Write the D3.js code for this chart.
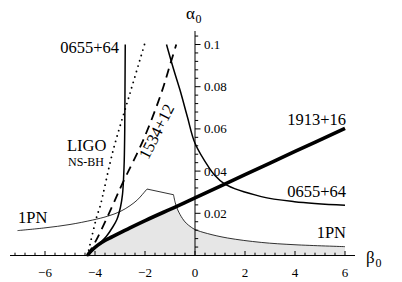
<!DOCTYPE html>
<html>
<head>
<meta charset="UTF-8">
<script src="https://d3js.org/d3.v7.min.js"></script>
</head>
<body style="margin:0">
<script>

// curves, [beta0, alpha0]
var pnRise = [[-7.1, 0.0118], [-6, 0.0131], [-5, 0.0147], [-4.1, 0.0168], [-3.5, 0.0186],
              [-3.0, 0.0208], [-2.6, 0.0236], [-2.3, 0.0264], [-2.1, 0.029], [-1.92, 0.0315]];
var pnFlat = [[-1.92, 0.0315], [-0.86, 0.0288]];
var pnFall = [[-0.86, 0.0288], [-0.79, 0.025], [-0.69, 0.0216], [-0.5, 0.0175], [-0.35, 0.0153],
              [-0.15, 0.0134], [0, 0.0123], [0.5, 0.0104], [1.3, 0.0083], [2.65, 0.0062],
              [4, 0.0051], [6, 0.0042]];
var psr1913 = [[-4.3, 0], [-4.15, 0.0022], [-3.9, 0.0048], [-3.6, 0.0071], [-3.3, 0.0089],
               [-2.6, 0.0131], [-1.95, 0.0168], [-0.75, 0.0232], [0, 0.0273], [2, 0.0383],
               [4, 0.0493], [6, 0.0603]];
var psr0655Left = [[-2.79, 0.1], [-2.8, 0.08], [-2.81, 0.06], [-2.83, 0.045], [-2.86, 0.036],
                   [-2.9, 0.029], [-2.98, 0.023], [-3.12, 0.0172], [-3.29, 0.0135],
                   [-3.55, 0.009], [-3.82, 0.0057], [-4.05, 0.003], [-4.3, 0]];
var psr0655Right = [[-1.14, 0.1], [-0.85, 0.088], [-0.6, 0.0784], [-0.3, 0.0655], [0, 0.0532],
                    [0.58, 0.0413], [0.78, 0.0382], [1.18, 0.0339], [2.65, 0.0279],
                    [3.98, 0.0255], [6, 0.0238]];
var psr1534 = [[-4.3, 0], [-3.95, 0.0073], [-3.62, 0.0153], [-3.29, 0.0239], [-2.9, 0.0342],
               [-2.07, 0.0547], [-1.35, 0.0769], [-1.02, 0.0895], [-0.75, 0.1]];
var ligo = [[-4.3, 0], [-3.93, 0.0184], [-3.8, 0.0231], [-3.27, 0.05], [-2.6, 0.0769], [-2.02, 0.1]];

var xTickLabels = [-6, -4, -2, 0, 2, 4, 6];
var yTickLabels = [0.02, 0.04, 0.06, 0.08, 0.1];

var x = d3.scaleLinear().domain([-6, 6]).range([45, 345]);
var y = d3.scaleLinear().domain([0, 0.1]).range([255.5, 44.5]);

var svg = d3.select('body').append('svg')
    .attr('width', 402)
    .attr('height', 282);

var line = d3.line()
    .x(function(d) { return x(d[0]); })
    .y(function(d) { return y(d[1]); })
    .curve(d3.curveCatmullRom.alpha(0.5));

var straight = d3.line()
    .x(function(d) { return x(d[0]); })
    .y(function(d) { return y(d[1]); });

// 1PN as one path, kinks kept by joining the pieces
var pnPieces = [line(pnRise), straight(pnFlat), line(pnFall)];
var pnPath = pnPieces.map(function(p, i) { return i === 0 ? p : 'L' + p.slice(1); }).join('');

// shaded region: under 1913+16 and under 1PN
svg.append('clipPath').attr('id', 'under-pn')
  .append('path')
    .attr('d', pnPath + 'L' + x(6) + ',' + y(0) + 'L' + x(-7.1) + ',' + y(0) + 'Z');

var area = d3.area()
    .x(function(d) { return x(d[0]); })
    .y0(y(0))
    .y1(function(d) { return y(d[1]); })
    .curve(d3.curveCatmullRom.alpha(0.5));

svg.append('path')
    .attr('d', area(psr1913))
    .attr('clip-path', 'url(#under-pn)')
    .style('fill', '#e6e6e6');

// axes
var axes = svg.append('g').style('stroke', '#000').style('stroke-width', 1);
axes.append('line')
    .attr('x1', 10).attr('x2', 355)
    .attr('y1', y(0)).attr('y2', y(0));
axes.append('line')
    .attr('x1', x(0)).attr('x2', x(0))
    .attr('y1', y(0)).attr('y2', 31);

axes.selectAll('line.xtick')
    .data(d3.range(-18, 16))
    .enter().append('line')
    .attr('class', 'xtick')
    .attr('x1', function(i) { return x(i * 0.4); })
    .attr('x2', function(i) { return x(i * 0.4); })
    .attr('y1', y(0))
    .attr('y2', function(i) { return y(0) - (i % 5 === 0 ? 4.5 : 2.8); });

axes.selectAll('line.ytick')
    .data(d3.range(1, 27))
    .enter().append('line')
    .attr('class', 'ytick')
    .attr('y1', function(i) { return y(i * 0.004); })
    .attr('y2', function(i) { return y(i * 0.004); })
    .attr('x1', x(0))
    .attr('x2', function(i) { return x(0) + (i % 5 === 0 ? 5.5 : 3.2); });

svg.selectAll('text.xlab')
    .data(xTickLabels)
    .enter().append('text')
    .attr('class', 'xlab')
    .attr('x', function(d) { return x(d); })
    .attr('y', 277)
    .attr('text-anchor', 'middle')
    .style('font-family', function() { return "'Times New Roman'"; })
    .style('font-size', '13px')
    .text(function(d) { return d < 0 ? '\u2212' + (-d) : String(d); });

svg.selectAll('text.ylab')
    .data(yTickLabels)
    .enter().append('text')
    .attr('class', 'ylab')
    .attr('x', x(0) + 9)
    .attr('y', function(d) { return y(d) + 4.5; })
    .style('font-family', function() { return "'Times New Roman'"; })
    .style('font-size', '13px')
    .text(function(d) { return String(d); });

// curves
svg.append('path')
    .attr('d', pnPath)
    .style('fill', 'none').style('stroke', '#000').style('stroke-width', 0.8);

svg.append('path')
    .attr('d', line(ligo))
    .style('fill', 'none').style('stroke', '#000').style('stroke-width', 1.9)
    .style('stroke-linecap', 'round').style('stroke-dasharray', '0 5.6');

svg.append('path')
    .attr('d', line(psr1534))
    .style('fill', 'none').style('stroke', '#000').style('stroke-width', 1.8)
    .style('stroke-dasharray', '9 6');

svg.append('path')
    .attr('d', line(psr0655Left))
    .style('fill', 'none').style('stroke', '#000').style('stroke-width', 1.5);

svg.append('path')
    .attr('d', line(psr0655Right))
    .style('fill', 'none').style('stroke', '#000').style('stroke-width', 1.5);

svg.append('path')
    .attr('d', line(psr1913))
    .style('fill', 'none').style('stroke', '#000').style('stroke-width', 3.6);

// labels: [x, y, text, size, anchor, rotation]
var labels = [
    [119, 53, '0655+64', 16.5, 'end', 0],
    [346, 197, '0655+64', 16.5, 'end', 0],
    [346, 125, '1913+16', 16.5, 'end', 0],
    [346, 238, '1PN', 16.5, 'end', 0],
    [18, 223, '1PN', 16.5, 'start', 0],
    [67, 151, 'LIGO', 16.5, 'start', 0],
    [68, 166, 'NS-BH', 12, 'start', 0],
    [161.5, 134, '1534+12', 16.5, 'middle', -63.4],
    [186, 19, '\u03b1', 17, 'start', 0],
    [366, 263, '\u03b2', 17, 'start', 0]
];

svg.selectAll('text.lab')
    .data(labels)
    .enter().append('text')
    .attr('class', 'lab')
    .attr('transform', function(d) { return 'translate(' + d[0] + ',' + d[1] + ') rotate(' + d[5] + ')'; })
    .attr('text-anchor', function(d) { return d[4]; })
    .style('font-family', function() { return "'Times New Roman'"; })
    .style('font-size', function(d) { return d[3] + 'px'; })
    .text(function(d) { return d[2]; });

// subscript zeros on the axis names
svg.selectAll('text.sub')
    .data([[195.5, 23], [375.5, 267]])
    .enter().append('text')
    .attr('class', 'sub')
    .attr('x', function(d) { return d[0]; })
    .attr('y', function(d) { return d[1]; })
    .style('font-family', function() { return "'Times New Roman'"; })
    .style('font-size', '12px')
    .text('0');

</script>
</body>
</html>
